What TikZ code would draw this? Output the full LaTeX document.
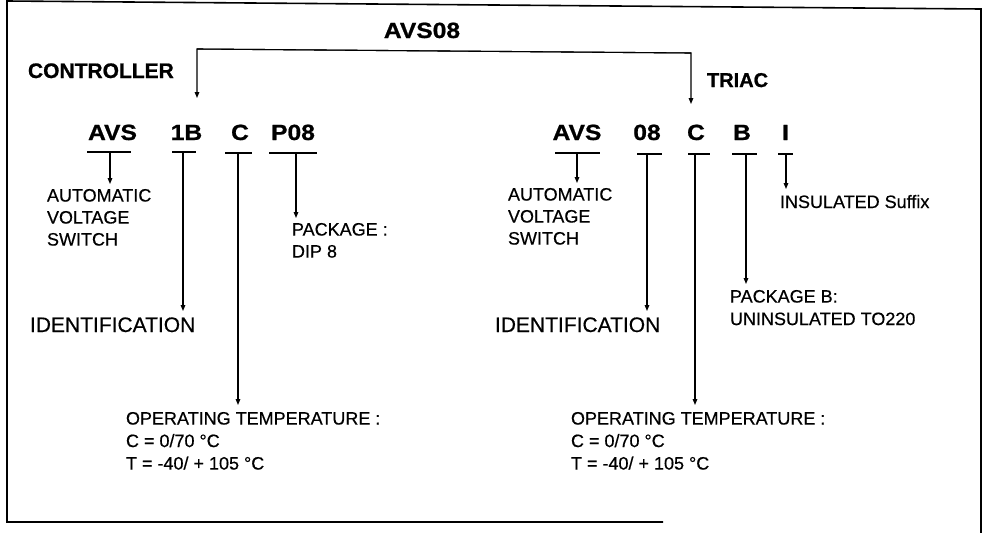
\documentclass[tikz,border=0pt]{standalone}
\usepackage{fontspec}
\setmainfont{Liberation Sans}
\newfontfamily\lbfont{Liberation Sans}[FakeBold=0.5]
\newfontfamily\cdfont{Liberation Sans Bold}[FakeBold=0.8]
\usetikzlibrary{arrows.meta}
\newcommand\codetxt[1]{\scalebox{1.12}[1]{#1}}
\begin{document}
\begin{tikzpicture}[x=1pt,y=-1pt,
  lbl/.style={inner sep=0pt, outer sep=0pt, font=\lbfont\fontsize{18}{22}\selectfont, align=left, anchor=north west},
  slbl/.style={inner sep=0pt, outer sep=0pt, font=\lbfont\fontsize{18}{22}\selectfont, anchor=base west},
  idlbl/.style={inner sep=0pt, outer sep=0pt, font=\lbfont\fontsize{21}{25}\selectfont, anchor=base west},
  code/.style={inner sep=0pt, outer sep=0pt, font=\cdfont\fontsize{22}{26}\selectfont, anchor=base},
  head/.style={inner sep=0pt, outer sep=0pt, font=\cdfont\fontsize{21}{25}\selectfont, anchor=base west},
  conn/.style={line width=1.1pt, -{Triangle[length=6pt,width=4.6pt]}},
  bar/.style={line width=1.1pt},
  frame/.style={line width=1.6pt}]
\useasboundingbox (0,0) rectangle (989,533);
% frame
\draw[frame] (663,522) -- (7,522) -- (7,1) -- (981,9) -- (981,533);

% headings
\node[code] (avs08) at (422,38) {\codetxt{AVS08}};
\node[head] (ctrl) at (28,78) {CONTROLLER};
\node[head, font=\cdfont\fontsize{20}{24}\selectfont] (triac) at (707,87) {TRIAC};

% code letters, left
\node[code] (lavs) at (112.5,140) {\codetxt{AVS}};
\node[code] (l1b) at (186.5,140) {\codetxt{1B}};
\node[code] (lc) at (240,140) {\codetxt{C}};
\node[code] (lp08) at (293,140) {\codetxt{P08}};
% code letters, right
\node[code] (ravs) at (577,140) {\codetxt{AVS}};
\node[code] (r08) at (647,140) {\codetxt{08}};
\node[code] (rc) at (696,140) {\codetxt{C}};
\node[code] (rb) at (742,140) {\codetxt{B}};
\node[code] (ri) at (785.5,140) {\codetxt{I}};

% labels, left
\node[lbl] (lauto) at (47,189) {AUTOMATIC\\VOLTAGE\\SWITCH};
\node[idlbl] (lid) at (30,332) {IDENTIFICATION};
\node[lbl] (lpkg) at (292,223) {PACKAGE :\\DIP 8};
\node[lbl, font=\lbfont\fontsize{18}{22.5}\selectfont] (lopt) at (126,412) {OPERATING TEMPERATURE :\\C = 0/70 °C\\T = -40/ + 105 °C};
% labels, right
\node[lbl] (rauto) at (508,188) {AUTOMATIC\\VOLTAGE\\SWITCH};
\node[idlbl] (rid) at (495,332) {IDENTIFICATION};
\node[lbl, font=\lbfont\fontsize{18}{22.5}\selectfont] (rpkg) at (730,290) {PACKAGE B:\\UNINSULATED TO220};
\node[slbl] (rins) at (780,208) {INSULATED Suffix};
\node[lbl, font=\lbfont\fontsize{18}{22.5}\selectfont] (ropt) at (571,412) {OPERATING TEMPERATURE :\\C = 0/70 °C\\T = -40/ + 105 °C};

% bracket from AVS08
\coordinate (bl) at (197,49);
\coordinate (br) at (691,53);
\coordinate (tl) at (197,98);
\coordinate (tr) at (691,104);
\draw[conn] (br) -- (bl) -- (tl);
\draw[conn] (bl) -- (br) -- (tr);

% underlines, left
\draw[bar] (87,152) -- (131,152);
\draw[bar] (172,152) -- (196,152);
\draw[bar] (225,153) -- (252,153);
\draw[bar] (269,153) -- (317,153);
% underlines, right
\draw[bar] (555,153) -- (600,153);
\draw[bar] (637,154) -- (662,154);
\draw[bar] (688,154) -- (710,154);
\draw[bar] (732,154) -- (757,154);
\draw[bar] (778,154) -- (793,154);

% stem start and tip points
\coordinate (s1) at (110,152);  \coordinate (e1) at (110,184);
\coordinate (s2) at (183,152);  \coordinate (e2) at (183,311);
\coordinate (s3) at (238,153);  \coordinate (e3) at (238,405);
\coordinate (s4) at (296,153);  \coordinate (e4) at (296,218);
\coordinate (s5) at (577,153);  \coordinate (e5) at (577,183);
\coordinate (s6) at (647,154);  \coordinate (e6) at (647,311);
\coordinate (s7) at (695,154);  \coordinate (e7) at (695,405);
\coordinate (s8) at (746,154);  \coordinate (e8) at (746,284);
\coordinate (s9) at (786,154);  \coordinate (e9) at (786,189);
\foreach \i in {1,...,9} \draw[conn] (s\i) -- (e\i);
\end{tikzpicture}
\end{document}
